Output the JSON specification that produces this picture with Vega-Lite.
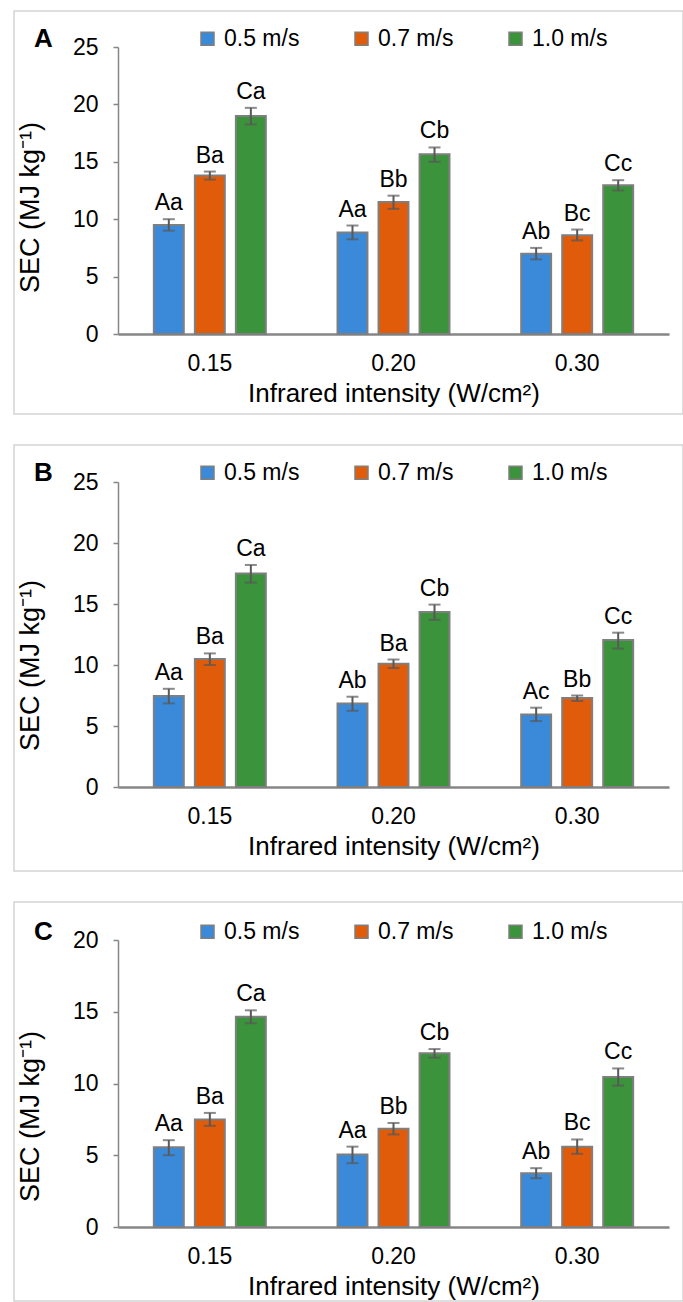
{
  "$schema": "https://vega.github.io/schema/vega-lite/v6.json",
  "padding": {"left": 13, "top": 10, "right": 0, "bottom": 0},
  "autosize": {"type": "pad"},
  "datasets": {
    "A": [
      {"ir": "0.15", "speed": "0.5 m/s", "value": 9.5, "lo": 9.0, "hi": 10.0, "label": "Aa"},
      {"ir": "0.15", "speed": "0.7 m/s", "value": 13.8, "lo": 13.45, "hi": 14.15, "label": "Ba"},
      {"ir": "0.15", "speed": "1.0 m/s", "value": 19.0, "lo": 18.25, "hi": 19.7, "label": "Ca"},
      {"ir": "0.20", "speed": "0.5 m/s", "value": 8.85, "lo": 8.25, "hi": 9.45, "label": "Aa"},
      {"ir": "0.20", "speed": "0.7 m/s", "value": 11.5, "lo": 10.9, "hi": 12.05, "label": "Bb"},
      {"ir": "0.20", "speed": "1.0 m/s", "value": 15.65, "lo": 15.0, "hi": 16.25, "label": "Cb"},
      {"ir": "0.30", "speed": "0.5 m/s", "value": 7.0, "lo": 6.5, "hi": 7.5, "label": "Ab"},
      {"ir": "0.30", "speed": "0.7 m/s", "value": 8.6, "lo": 8.15, "hi": 9.1, "label": "Bc"},
      {"ir": "0.30", "speed": "1.0 m/s", "value": 12.95, "lo": 12.5, "hi": 13.4, "label": "Cc"}
    ],
    "B": [
      {"ir": "0.15", "speed": "0.5 m/s", "value": 7.45, "lo": 6.85, "hi": 8.05, "label": "Aa"},
      {"ir": "0.15", "speed": "0.7 m/s", "value": 10.5, "lo": 10.0, "hi": 10.95, "label": "Ba"},
      {"ir": "0.15", "speed": "1.0 m/s", "value": 17.5, "lo": 16.75, "hi": 18.2, "label": "Ca"},
      {"ir": "0.20", "speed": "0.5 m/s", "value": 6.85, "lo": 6.25, "hi": 7.4, "label": "Ab"},
      {"ir": "0.20", "speed": "0.7 m/s", "value": 10.1, "lo": 9.75, "hi": 10.45, "label": "Ba"},
      {"ir": "0.20", "speed": "1.0 m/s", "value": 14.35, "lo": 13.7, "hi": 14.95, "label": "Cb"},
      {"ir": "0.30", "speed": "0.5 m/s", "value": 5.95, "lo": 5.4, "hi": 6.5, "label": "Ac"},
      {"ir": "0.30", "speed": "0.7 m/s", "value": 7.3, "lo": 7.05, "hi": 7.5, "label": "Bb"},
      {"ir": "0.30", "speed": "1.0 m/s", "value": 12.05, "lo": 11.35, "hi": 12.65, "label": "Cc"}
    ],
    "C": [
      {"ir": "0.15", "speed": "0.5 m/s", "value": 5.55, "lo": 5.0, "hi": 6.05, "label": "Aa"},
      {"ir": "0.15", "speed": "0.7 m/s", "value": 7.5, "lo": 7.05, "hi": 7.95, "label": "Ba"},
      {"ir": "0.15", "speed": "1.0 m/s", "value": 14.65, "lo": 14.2, "hi": 15.1, "label": "Ca"},
      {"ir": "0.20", "speed": "0.5 m/s", "value": 5.05, "lo": 4.45, "hi": 5.6, "label": "Aa"},
      {"ir": "0.20", "speed": "0.7 m/s", "value": 6.85, "lo": 6.45, "hi": 7.25, "label": "Bb"},
      {"ir": "0.20", "speed": "1.0 m/s", "value": 12.1, "lo": 11.8, "hi": 12.4, "label": "Cb"},
      {"ir": "0.30", "speed": "0.5 m/s", "value": 3.75, "lo": 3.4, "hi": 4.1, "label": "Ab"},
      {"ir": "0.30", "speed": "0.7 m/s", "value": 5.6, "lo": 5.1, "hi": 6.1, "label": "Bc"},
      {"ir": "0.30", "speed": "1.0 m/s", "value": 10.45, "lo": 9.85, "hi": 11.05, "label": "Cc"}
    ]
  },
  "spacing": 29,
  "resolve": {
    "scale": {"x": "independent", "y": "independent", "color": "independent", "xOffset": "independent"},
    "axis": {"x": "independent", "y": "independent"},
    "legend": {"color": "independent"}
  },
  "vconcat": [
    {
      "width": 669,
      "height": 403,
      "data": {"name": "A"},
      "encoding": {
        "x": {"field": "ir", "type": "nominal", "scale": {"range": [104, 655], "paddingInner": 0.33, "paddingOuter": 0.165}, "axis": {"title": "Infrared intensity (W/cm²)", "offset": -80}},
        "xOffset": {"field": "speed", "type": "nominal", "scale": {"paddingInner": 0.27, "paddingOuter": 0.135}}
      },
      "layer": [
        {
          "mark": {"type": "bar", "stroke": "#7f7f7f", "strokeWidth": 2},
          "encoding": {
            "y": {"field": "value", "type": "quantitative", "title": "SEC (MJ kg⁻¹)", "scale": {"domain": [0, 25], "range": [323, 36], "nice": false, "zero": true}, "axis": {"values": [0, 5, 10, 15, 20, 25], "offset": -104, "titleY": 196}},
            "color": {"field": "speed", "type": "nominal", "scale": {"range": ["#3b8ad9", "#e05c0a", "#3b933b"]}, "legend": {"title": "A", "legendX": 20, "legendY": 16}}
          }
        },
        {
          "mark": {"type": "rule", "color": "#595959", "strokeWidth": 2},
          "encoding": {"y": {"field": "lo", "type": "quantitative", "title": "SEC (MJ kg⁻¹)"}, "y2": {"field": "hi"}}
        },
        {
          "mark": {"type": "tick", "color": "#595959", "thickness": 2, "size": 12},
          "encoding": {"y": {"field": "lo", "type": "quantitative", "title": "SEC (MJ kg⁻¹)"}}
        },
        {
          "mark": {"type": "tick", "color": "#595959", "thickness": 2, "size": 12},
          "encoding": {"y": {"field": "hi", "type": "quantitative", "title": "SEC (MJ kg⁻¹)"}}
        },
        {
          "mark": {"type": "text", "baseline": "alphabetic", "dy": -9, "fontSize": 23, "color": "#000000"},
          "encoding": {"y": {"field": "hi", "type": "quantitative", "title": "SEC (MJ kg⁻¹)"}, "text": {"field": "label"}}
        }
      ]
    },
    {
      "width": 669,
      "height": 426,
      "data": {"name": "B"},
      "encoding": {
        "x": {"field": "ir", "type": "nominal", "scale": {"range": [104, 655], "paddingInner": 0.33, "paddingOuter": 0.165}, "axis": {"title": "Infrared intensity (W/cm²)", "offset": -84}},
        "xOffset": {"field": "speed", "type": "nominal", "scale": {"paddingInner": 0.27, "paddingOuter": 0.135}}
      },
      "layer": [
        {
          "mark": {"type": "bar", "stroke": "#7f7f7f", "strokeWidth": 2},
          "encoding": {
            "y": {"field": "value", "type": "quantitative", "title": "SEC (MJ kg⁻¹)", "scale": {"domain": [0, 25], "range": [342, 37], "nice": false, "zero": true}, "axis": {"values": [0, 5, 10, 15, 20, 25], "offset": -104, "titleY": 220}},
            "color": {"field": "speed", "type": "nominal", "scale": {"range": ["#3b8ad9", "#e05c0a", "#3b933b"]}, "legend": {"title": "B", "legendX": 20, "legendY": 16}}
          }
        },
        {
          "mark": {"type": "rule", "color": "#595959", "strokeWidth": 2},
          "encoding": {"y": {"field": "lo", "type": "quantitative", "title": "SEC (MJ kg⁻¹)"}, "y2": {"field": "hi"}}
        },
        {
          "mark": {"type": "tick", "color": "#595959", "thickness": 2, "size": 12},
          "encoding": {"y": {"field": "lo", "type": "quantitative", "title": "SEC (MJ kg⁻¹)"}}
        },
        {
          "mark": {"type": "tick", "color": "#595959", "thickness": 2, "size": 12},
          "encoding": {"y": {"field": "hi", "type": "quantitative", "title": "SEC (MJ kg⁻¹)"}}
        },
        {
          "mark": {"type": "text", "baseline": "alphabetic", "dy": -9, "fontSize": 23, "color": "#000000"},
          "encoding": {"y": {"field": "hi", "type": "quantitative", "title": "SEC (MJ kg⁻¹)"}, "text": {"field": "label"}}
        }
      ]
    },
    {
      "width": 669,
      "height": 399,
      "data": {"name": "C"},
      "encoding": {
        "x": {"field": "ir", "type": "nominal", "scale": {"range": [104, 655], "paddingInner": 0.33, "paddingOuter": 0.165}, "axis": {"title": "Infrared intensity (W/cm²)", "offset": -74}},
        "xOffset": {"field": "speed", "type": "nominal", "scale": {"paddingInner": 0.27, "paddingOuter": 0.135}}
      },
      "layer": [
        {
          "mark": {"type": "bar", "stroke": "#7f7f7f", "strokeWidth": 2},
          "encoding": {
            "y": {"field": "value", "type": "quantitative", "title": "SEC (MJ kg⁻¹)", "scale": {"domain": [0, 20], "range": [325, 38], "nice": false, "zero": true}, "axis": {"values": [0, 5, 10, 15, 20], "offset": -104, "titleY": 214}},
            "color": {"field": "speed", "type": "nominal", "scale": {"range": ["#3b8ad9", "#e05c0a", "#3b933b"]}, "legend": {"title": "C", "legendX": 20, "legendY": 18}}
          }
        },
        {
          "mark": {"type": "rule", "color": "#595959", "strokeWidth": 2},
          "encoding": {"y": {"field": "lo", "type": "quantitative", "title": "SEC (MJ kg⁻¹)"}, "y2": {"field": "hi"}}
        },
        {
          "mark": {"type": "tick", "color": "#595959", "thickness": 2, "size": 12},
          "encoding": {"y": {"field": "lo", "type": "quantitative", "title": "SEC (MJ kg⁻¹)"}}
        },
        {
          "mark": {"type": "tick", "color": "#595959", "thickness": 2, "size": 12},
          "encoding": {"y": {"field": "hi", "type": "quantitative", "title": "SEC (MJ kg⁻¹)"}}
        },
        {
          "mark": {"type": "text", "baseline": "alphabetic", "dy": -9, "fontSize": 23, "color": "#000000"},
          "encoding": {"y": {"field": "hi", "type": "quantitative", "title": "SEC (MJ kg⁻¹)"}, "text": {"field": "label"}}
        }
      ]
    }
  ],
  "config": {
    "font": "Liberation Sans",
    "view": {"stroke": "#d4d4d4", "strokeWidth": 1.5},
    "axis": {"labelFontSize": 23, "labelColor": "#000000", "titleFontSize": 27, "titleFontWeight": "normal", "titleColor": "#000000", "grid": false, "domainColor": "#868686", "tickColor": "#868686"},
    "axisX": {"ticks": false, "domainWidth": 2.5, "labelAngle": 0, "labelPadding": 18, "titlePadding": 5, "titleFontSize": 26},
    "axisY": {"tickSize": 5, "domainWidth": 1.5, "tickWidth": 1.5, "labelPadding": 15, "titlePadding": 28},
    "legend": {"orient": "none", "direction": "horizontal", "titleOrient": "left", "titleFontSize": 26, "titleFontWeight": "bold", "titleColor": "#000000", "titlePadding": 143, "titleAnchor": "middle", "titleBaseline": "middle", "labelFontSize": 23, "labelColor": "#000000", "symbolSize": 169, "symbolType": "square", "symbolStrokeColor": "#7f7f7f", "symbolStrokeWidth": 1.5, "columnPadding": 50, "labelOffset": 5, "padding": 0}
  }
}
